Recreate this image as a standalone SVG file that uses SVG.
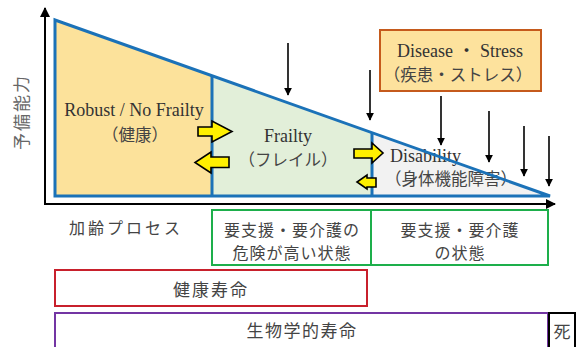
<svg xmlns="http://www.w3.org/2000/svg" width="581" height="347" viewBox="0 0 581 347">
<defs>
<marker id="ah" viewBox="0 0 10 10" refX="9" refY="5" markerWidth="8" markerHeight="8" markerUnits="userSpaceOnUse" orient="auto">
<path d="M0,0 L10,5 L0,10 z" fill="#000"/>
</marker>
<marker id="axh" viewBox="0 0 10 10" refX="9" refY="5" markerWidth="10" markerHeight="10" markerUnits="userSpaceOnUse" orient="auto">
<path d="M0,0 L10,5 L0,10 z" fill="#000"/>
</marker>
</defs>
<style>
.serif{font-family:"Liberation Serif","Times New Roman","Noto Sans CJK JP",serif;fill:#333;font-size:18px;text-anchor:middle}
.jp{font-family:"Noto Sans CJK JP",sans-serif;fill:#444;font-size:16.5px;text-anchor:middle}
.sans{font-family:"Noto Sans CJK JP","Liberation Sans",sans-serif;fill:#444;font-size:16px;text-anchor:middle}
.reg{stroke:none}
.blue{fill:none;stroke:#1B72B8;stroke-width:3;stroke-linejoin:miter}
.yarrow{fill:#FFF000;stroke:#000;stroke-width:1.6;stroke-linejoin:miter}
.down{stroke:#000;stroke-width:1.6;fill:none;marker-end:url(#ah)}
.axis{stroke:#000;stroke-width:2;fill:none;marker-end:url(#axh)}
</style>
<rect width="581" height="347" fill="#fff"/>

<g id="robust">
<polygon class="reg" points="55,20 212,76 212,195 55,195" fill="#FCE29B"/>
<text class="serif" x="134" y="116">Robust / No Frailty</text>
<text class="jp" x="135" y="141">（健康）</text>
</g>
<g id="frailty">
<polygon class="reg" points="212,76 372,133 372,195 212,195" fill="#E2EFD9"/>
<text class="serif" x="288" y="142">Frailty</text>
<text class="jp" x="288" y="166">（フレイル）</text>
</g>
<g id="disability">
<polygon class="reg" points="372,133 550,196 372,196" fill="#F2F2F2"/>
<text class="serif" x="390" y="162" style="text-anchor:start">Disability</text>
<text class="jp" x="451" y="185">（身体機能障害）</text>
</g>
<g id="outline">
<polygon class="blue" points="55,20 550,196 55,196"/>
<line class="blue" x1="212" y1="76" x2="212" y2="196"/>
<line class="blue" x1="372" y1="133" x2="372" y2="196"/>
</g>

<g id="disease">
<rect x="380" y="30" width="161" height="61" fill="#FDE29D" stroke="#C55A1C" stroke-width="2"/>
<text class="serif" x="460" y="57">Disease ・ Stress</text>
<text class="jp" x="458" y="81">（疾患・ストレス）</text>
</g>

<g id="connectors">
<line class="axis" x1="45" y1="205" x2="45" y2="8"/>
<line class="axis" x1="44" y1="204" x2="555" y2="204"/>
<line class="down" x1="288" y1="43" x2="288" y2="95"/>
<line class="down" x1="370" y1="70" x2="370" y2="120"/>
<line class="down" x1="441" y1="96" x2="441" y2="145"/>
<line class="down" x1="489" y1="111" x2="489" y2="162"/>
<line class="down" x1="524" y1="126" x2="524" y2="176"/>
<line class="down" x1="549" y1="136" x2="549" y2="186"/>
<polygon class="yarrow" points="198,127 212,127 212,121 232,131.5 212,142 212,136 198,136"/>
<polygon class="yarrow" points="229,157 211,157 211,152 195,162.5 211,173 211,167.5 229,167.5"/>
<polygon class="yarrow" points="354,149 372,149 372,143 383,153 372,163 372,158 354,158"/>
<polygon class="yarrow" points="376,178 367,178 367,175 357,182 367,189 367,187 376,187"/>
</g>

<g id="ylabel">
<text class="sans" x="22" y="118" transform="rotate(-90 22 112)" style="font-size:17px;letter-spacing:2px;fill:#666">予備能力</text>
</g>
<g id="aging">
<text class="sans" x="126" y="234" style="letter-spacing:3px">加齢プロセス</text>
</g>
<g id="prefrail-state">
<rect x="212" y="210" width="159" height="55" fill="none" stroke="#1DAF4B" stroke-width="2"/>
<text class="sans" x="292" y="236" style="letter-spacing:1px">要支援・要介護の</text>
<text class="sans" x="292" y="259" style="letter-spacing:1px">危険が高い状態</text>
</g>
<g id="care-state">
<rect x="371" y="210" width="177" height="55" fill="none" stroke="#1DAF4B" stroke-width="2"/>
<text class="sans" x="460" y="236" style="letter-spacing:1px">要支援・要介護</text>
<text class="sans" x="460" y="259" style="letter-spacing:1px">の状態</text>
</g>
<g id="healthy-life">
<rect x="55" y="270" width="312" height="36" fill="none" stroke="#C8202C" stroke-width="2"/>
<text class="sans" x="211" y="296" style="font-size:17px;letter-spacing:2px">健康寿命</text>
</g>
<g id="bio-life">
<path d="M55,350 V313 H548 V350" fill="none" stroke="#7335A3" stroke-width="2"/>
<text class="sans" x="302" y="337" style="font-size:17px;letter-spacing:1.5px">生物学的寿命</text>
</g>
<g id="death">
<path d="M549,350 V313 H575 V350" fill="none" stroke="#000" stroke-width="2"/>
<text class="sans" x="562" y="338" style="font-size:17px">死</text>
</g>
</svg>
